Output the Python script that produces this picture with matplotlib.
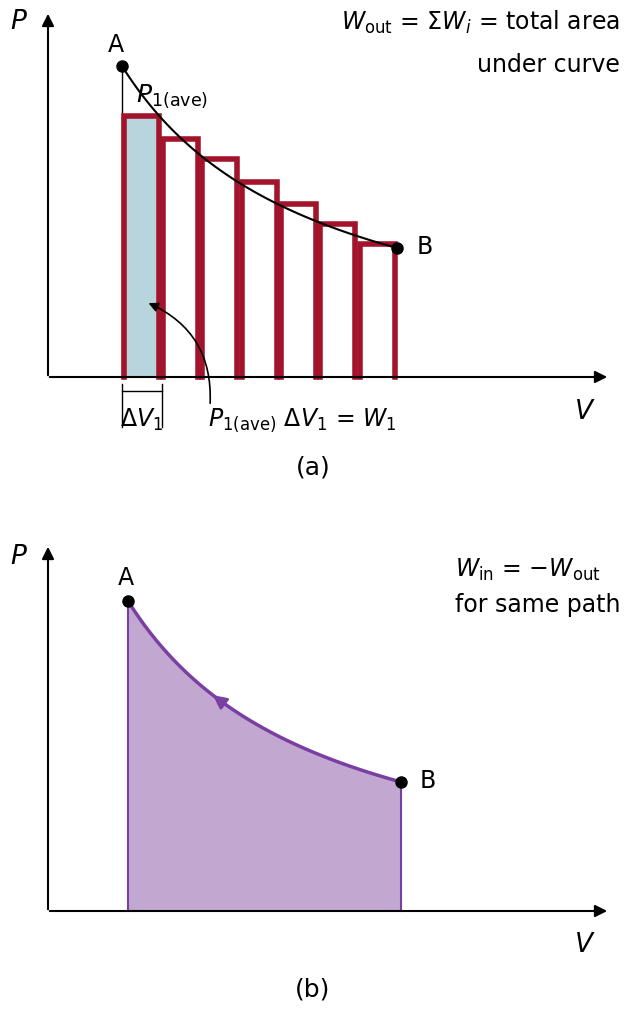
import matplotlib
matplotlib.use("Agg")
import matplotlib.pyplot as plt
import numpy as np
from matplotlib.patches import Rectangle, FancyArrowPatch

# Panel (a) data (pixel-space diagram units, y measured downward)
bar_left = [122, 161, 200, 240, 279, 318, 358]
bar_top = [117, 140, 160, 183, 205, 225, 245]
bar_width = 39
a_A = (122, 67)
a_B = (397, 249)
a_base = 378
# Panel (b)
b_A = (128, 602)
b_B = (401, 783)
b_base = 912

RED = "#a3142c"
fig = plt.figure(figsize=(6.25, 10.12), dpi=100)
ax = fig.add_axes([0, 0, 1, 1])
ax.set_xlim(0, 625)
ax.set_ylim(1012, 0)
ax.axis("off")

def curve(A, B, base, n=100):
    hA, hB = base - A[1], base - B[1]
    x0 = (hA * A[0] - hB * B[0]) / (hA - hB)
    k = hA * (A[0] - x0)
    xs = np.linspace(A[0], B[0], n)
    return xs, base - k / (xs - x0)

def axes_arrows(base, top):
    ax.annotate("", xy=(48, top), xytext=(48, base + 1),
                arrowprops=dict(arrowstyle="-|>", lw=1.5, color="k", mutation_scale=18))
    ax.annotate("", xy=(610, base), xytext=(47, base),
                arrowprops=dict(arrowstyle="-|>", lw=1.5, color="k", mutation_scale=18))

# ---- panel (a)
for i, (l, t) in enumerate(zip(bar_left, bar_top)):
    if i == 0:
        ax.add_patch(Rectangle((l + 2, t), bar_width - 4, a_base - t, fc="#b8d4dc", ec="none", zorder=1))
    ax.plot([l + 2, l + 2, l + bar_width - 2, l + bar_width - 2],
            [a_base, t, t, a_base], color=RED, lw=4, solid_joinstyle="miter", zorder=2)
axes_arrows(a_base, 12)
xs, ys = curve(a_A, a_B, a_base)
ax.plot(xs, ys, color="k", lw=1.5, zorder=3)
ax.plot([a_A[0], a_A[0]], [a_A[1], a_base], color="k", lw=1, zorder=1)
ax.plot(*a_A, "o", color="k", ms=8, zorder=4)
ax.plot(*a_B, "o", color="k", ms=8, zorder=4)
ax.text(116, 45, "A", fontsize=17, ha="center", va="center")
ax.text(417, 247, "B", fontsize=17, ha="left", va="center")
ax.text(10, 22, "P", fontsize=19, style="italic", va="center")
ax.text(575, 412, "V", fontsize=19, style="italic", va="center")
ax.text(620, 22, r"$W_{\mathrm{out}}$ = Σ$W_i$ = total area", fontsize=17, ha="right", va="center")
ax.text(620, 65, "under curve", fontsize=17, ha="right", va="center")
ax.text(136, 96, r"$P_{\mathrm{1(ave)}}$", fontsize=18, ha="left", va="center")
# delta V bracket
ax.plot([122, 122], [385, 428], color="k", lw=1)
ax.plot([162, 162], [385, 428], color="k", lw=1)
ax.plot([122, 162], [392, 392], color="k", lw=1)
ax.text(142, 420, r"Δ$V_1$", fontsize=17, ha="center", va="center")
ax.text(208, 420, r"$P_{\mathrm{1(ave)}}$ Δ$V_1$ = $W_1$", fontsize=17, ha="left", va="center")
ax.add_patch(FancyArrowPatch((210, 407), (146, 303), connectionstyle="arc3,rad=0.35",
                             arrowstyle="-|>", mutation_scale=14, lw=1.2, color="k", zorder=5))
ax.text(313, 468, "(a)", fontsize=18, ha="center", va="center")

# ---- panel (b)
axes_arrows(b_base, 545)
xs, ys = curve(b_A, b_B, b_base)
ax.fill_between(xs, ys, b_base, color="#c2a8d0", lw=0, zorder=1)
ax.plot(xs, ys, color="#7a3fa3", lw=2.5, zorder=2)
ax.plot([b_A[0], b_A[0]], [b_A[1], b_base], color="#7a3fa3", lw=1.5)
ax.plot([b_B[0], b_B[0]], [b_B[1], b_base], color="#7a3fa3", lw=1.5)
j = 30
ax.annotate("", xy=(xs[j], ys[j]), xytext=(xs[j + 3], ys[j + 3]),
            arrowprops=dict(arrowstyle="-|>", color="#7a3fa3", lw=2, mutation_scale=20))
ax.plot(*b_A, "o", color="k", ms=8, zorder=4)
ax.plot(*b_B, "o", color="k", ms=8, zorder=4)
ax.text(126, 578, "A", fontsize=17, ha="center", va="center")
ax.text(420, 781, "B", fontsize=17, ha="left", va="center")
ax.text(10, 557, "P", fontsize=19, style="italic", va="center")
ax.text(575, 945, "V", fontsize=19, style="italic", va="center")
ax.text(455, 570, r"$W_{\mathrm{in}}$ = −$W_{\mathrm{out}}$", fontsize=17, ha="left", va="center")
ax.text(455, 605, "for same path", fontsize=17, ha="left", va="center")
ax.text(313, 990, "(b)", fontsize=18, ha="center", va="center")

fig.savefig("out.png", dpi=100, facecolor="white")
